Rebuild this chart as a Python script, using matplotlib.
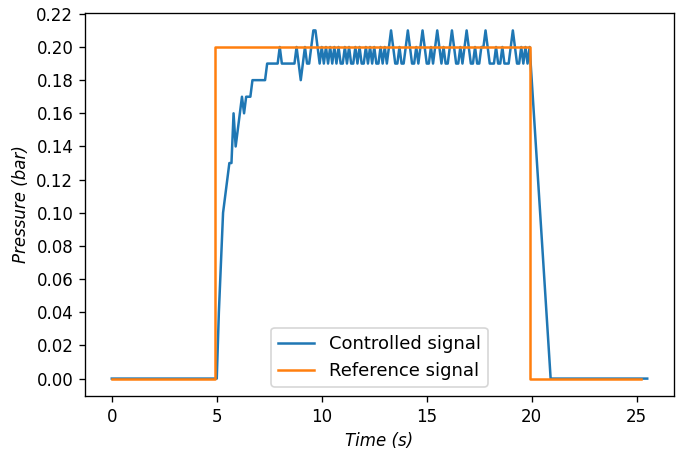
import numpy as np
import matplotlib
matplotlib.use("Agg")
import matplotlib.pyplot as plt

# Controlled signal: sampled every 0.1 s between 5.0 s and 20.0 s
sample_start = 5.0
sample_step = 0.1
ctrl_sampled = [
    0.00, 0.04, 0.07, 0.10, 0.11, 0.12, 0.13, 0.13, 0.16, 0.14,   # 5.0 - 5.9
    0.15, 0.16, 0.17, 0.16, 0.17, 0.17, 0.17, 0.18, 0.18, 0.18,   # 6.0 - 6.9
    0.18, 0.18, 0.18, 0.18, 0.19, 0.19, 0.19, 0.19, 0.19, 0.19,   # 7.0 - 7.9
    0.20, 0.19, 0.19, 0.19, 0.19, 0.19, 0.19, 0.19, 0.20, 0.19,   # 8.0 - 8.9
    0.18, 0.19, 0.20, 0.19, 0.19, 0.20, 0.21, 0.21, 0.20, 0.19,   # 9.0 - 9.9
    0.20, 0.19, 0.20, 0.19, 0.20, 0.19, 0.20, 0.19, 0.20, 0.19,   # 10.0 - 10.9
    0.19, 0.20, 0.19, 0.20, 0.19, 0.19, 0.20, 0.19, 0.20, 0.19,   # 11.0 - 11.9
    0.19, 0.20, 0.19, 0.20, 0.19, 0.20, 0.19, 0.19, 0.20, 0.19,   # 12.0 - 12.9
    0.20, 0.19, 0.20, 0.21, 0.20, 0.19, 0.19, 0.20, 0.19, 0.19,   # 13.0 - 13.9
    0.20, 0.21, 0.20, 0.19, 0.19, 0.20, 0.19, 0.20, 0.21, 0.20,   # 14.0 - 14.9
    0.19, 0.19, 0.20, 0.19, 0.20, 0.21, 0.20, 0.19, 0.20, 0.19,   # 15.0 - 15.9
    0.19, 0.20, 0.21, 0.20, 0.19, 0.19, 0.20, 0.19, 0.20, 0.21,   # 16.0 - 16.9
    0.20, 0.19, 0.19, 0.20, 0.19, 0.19, 0.20, 0.20, 0.21, 0.20,   # 17.0 - 17.9
    0.19, 0.19, 0.19, 0.20, 0.19, 0.19, 0.20, 0.19, 0.19, 0.19,   # 18.0 - 18.9
    0.20, 0.21, 0.20, 0.19, 0.19, 0.20, 0.19, 0.20, 0.19, 0.20,   # 19.0 - 19.9
    0.18,                                                         # 20.0
]
ctrl_head_time = [0.0]
ctrl_head_pressure = [0.0]
ctrl_tail_time = [20.9, 25.5]
ctrl_tail_pressure = [0.0, 0.0]

# Reference signal (step)
ref_time = [0.0, 4.9, 4.9, 19.9, 19.9, 25.2]
ref_pressure = [0.0, 0.0, 0.2, 0.2, 0.0, 0.0]

sample_times = np.round(sample_start + sample_step * np.arange(len(ctrl_sampled)), 2)
ctrl_time = np.concatenate([ctrl_head_time, sample_times, ctrl_tail_time])
ctrl_pressure = np.concatenate([ctrl_head_pressure, ctrl_sampled, ctrl_tail_pressure])

fig = plt.figure(figsize=(696 / 120, 454 / 120), dpi=120)
ax = fig.add_axes([85 / 696, 1 - 396 / 454, (674 - 85) / 696, (396 - 13) / 454])
ax.plot(ctrl_time, ctrl_pressure, color="tab:blue", label="Controlled signal")
ax.plot(ref_time, ref_pressure, color="tab:orange", label="Reference signal")
ax.set_xlim(-1.275, 26.775)
ax.set_ylim(-0.0105, 0.2205)
ax.set_yticks(np.arange(0, 0.221, 0.02))
ax.set_xticks([0, 5, 10, 15, 20, 25])
ax.set_xlabel("Time (s)", style="italic")
ax.set_ylabel("Pressure (bar)", style="italic")
ax.legend(loc="lower center", fontsize=10.8)
fig.savefig("out.png", dpi=120)
